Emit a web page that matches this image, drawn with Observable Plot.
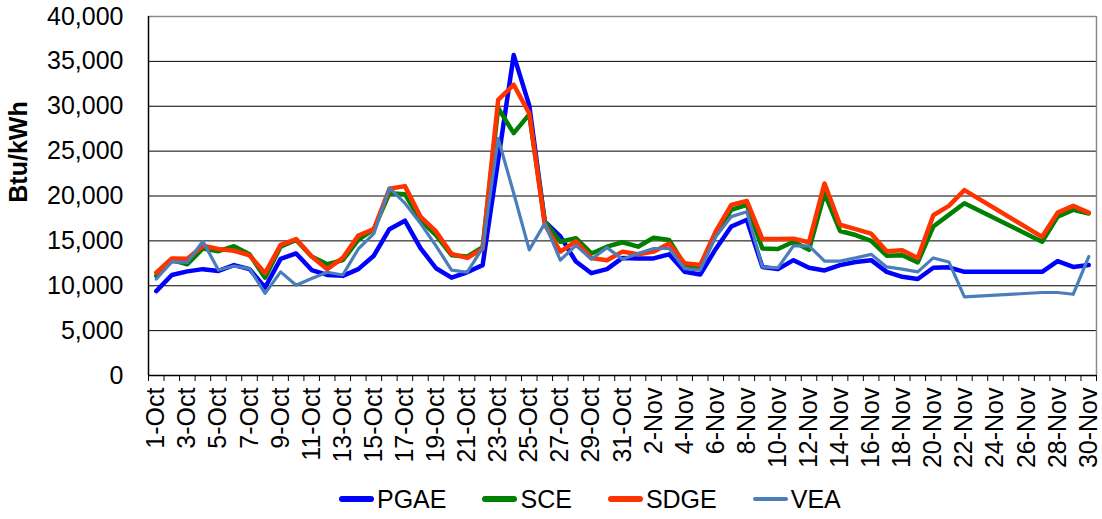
<!DOCTYPE html>
<html><head><meta charset="utf-8">
<script src="https://cdn.jsdelivr.net/npm/d3@7"></script>
<script src="https://cdn.jsdelivr.net/npm/@observablehq/plot@0.6"></script>
<style>
body{margin:0;background:#fff;font-family:"Liberation Sans",Arial,sans-serif;}
#wrap{position:relative;width:1102px;height:519px;overflow:hidden;}
#ylabel{position:absolute;left:18px;top:152px;transform:translate(-50%,-50%) rotate(-90deg);font-weight:bold;font-size:25px;white-space:nowrap;}
#legend{position:absolute;left:339px;top:484px;display:flex;align-items:center;font-size:25px;line-height:30px;}
.item{display:flex;align-items:center;margin-right:36px;}
.sw{width:35px;height:5px;margin-right:3px;border-radius:3px;}
</style></head><body>
<div id="wrap"><div id="chart"></div><div id="ylabel">Btu/kWh</div><div id="legend"></div></div>
<script>
// Category labels (daily, 1-Oct .. 30-Nov)
const dates = [...d3.range(1, 32).map(d => d + "-Oct"), ...d3.range(1, 31).map(d => d + "-Nov")];
const yTicks = [0, 5000, 10000, 15000, 20000, 25000, 30000, 35000, 40000];
const _ = null; // missing days (23-26 Nov)

const pgae = [9400,11200,11600,11850,11650,12300,11850,9800,13000,13600,11750,11200,11100,11850,13350,16300,17250,14200,11950,10900,11500,12300,24000,35700,30100,17150,15500,12700,11400,11850,13100,
  13050,13050,13500,11550,11250,14100,16600,17350,12100,11850,12850,12000,11700,12300,12650,12850,11550,11000,10750,12000,12050,11550,_,_,_,_,11550,12750,12100,12300];
const sce = [11100,12850,12400,14150,13850,14400,13500,10900,14350,15100,13250,12400,12850,15100,16300,20300,20200,17300,15650,13400,13250,14300,29800,27000,29100,17150,14900,15300,13600,14350,14850,
  14350,15350,15100,12300,12100,15700,18450,19000,14150,14100,14900,14000,20300,16100,15650,15000,13350,13400,12600,16600,17900,19200,_,_,_,_,14900,17700,18450,18050];
const sdge = [11450,13050,13000,14450,14100,13900,13400,11400,14550,15200,13250,11850,13100,15600,16300,20800,21100,17700,16050,13550,13100,14100,30700,32400,29200,16800,13800,14950,13100,12850,13800,
  13500,13800,14700,12500,12300,16050,19000,19450,15200,15200,15250,14850,21400,16800,16300,15800,13850,13950,13100,17850,18900,20650,_,_,_,_,15450,18150,18900,18150];
const vea = [10750,12650,12600,14950,11750,12200,11900,9150,11550,10050,10800,11500,11200,14100,15800,20900,19200,16950,14450,11750,11500,14200,26400,20300,14000,16950,12850,14500,12950,14250,12950,
  13600,14150,14150,11900,11750,15450,17700,18250,12100,12000,14450,14450,12750,12750,13100,13500,12100,11850,11550,13100,12650,8750,_,_,_,_,9250,9250,9050,13250];

const seriesNames = ["PGAE", "SCE", "SDGE", "VEA"];
const seriesValues = [pgae, sce, sdge, vea];
const colors = {PGAE: "#0000ff", SCE: "#008000", SDGE: "#ff3300", VEA: "#4a7ebb"};
const widths = {PGAE: 4.5, SCE: 4.5, SDGE: 4.5, VEA: 3.2};

const rows = seriesNames.flatMap((s, k) =>
  seriesValues[k].map((v, i) => ({series: s, i, v})).filter(d => d.v != null));

const labelIdx = d3.range(0, dates.length, 2);
const bounds = d3.range(0, dates.length + 1).map(i => i - 0.5);
const font = '"Liberation Sans", Arial, sans-serif';

const chart = Plot.plot({
  width: 1102, height: 480,
  marginTop: 16, marginBottom: 105, marginLeft: 148, marginRight: 6,
  style: {fontFamily: font, fontSize: "25px", color: "#000", background: "#fff"},
  x: {domain: [-0.5, dates.length - 0.5]},
  y: {domain: [0, 40000]},
  marks: [
    Plot.gridY(yTicks.slice(1, -1), {stroke: "#000", strokeOpacity: 1, strokeWidth: 1}),
    Plot.ruleY([40000], {stroke: "#8c8c8c", strokeWidth: 1.5}),
    Plot.ruleX([dates.length - 0.5], {stroke: "#8c8c8c", strokeWidth: 1.5}),
    Plot.axisY({ticks: yTicks, tickFormat: d3.format(","), tickSize: 0, tickPadding: 25, fontSize: 25, label: null}),
    Plot.axisX({ticks: labelIdx, tickFormat: i => dates[i], tickRotate: -90, tickSize: 0, tickPadding: 12, fontSize: 25, label: null}),
    Plot.axisX({ticks: bounds, tickFormat: () => "", tickSize: 6, label: null}),
    Plot.ruleX([-0.5], {stroke: "#000", strokeWidth: 1.5}),
    Plot.ruleY([0], {stroke: "#000", strokeWidth: 1.5}),
    ...seriesNames.map(s => Plot.line(rows.filter(d => d.series === s), {
      x: "i", y: "v", stroke: colors[s], strokeWidth: widths[s], strokeLinejoin: "round"
    }))
  ]
});
document.getElementById("chart").append(chart);

const legend = document.getElementById("legend");
for (const s of seriesNames) {
  const it = document.createElement("div");
  it.className = "item";
  it.innerHTML = `<span class="sw" style="background:${colors[s]};height:${s === "VEA" ? 4 : 6}px"></span><span>${s}</span>`;
  legend.append(it);
}
</script>
</body></html>
